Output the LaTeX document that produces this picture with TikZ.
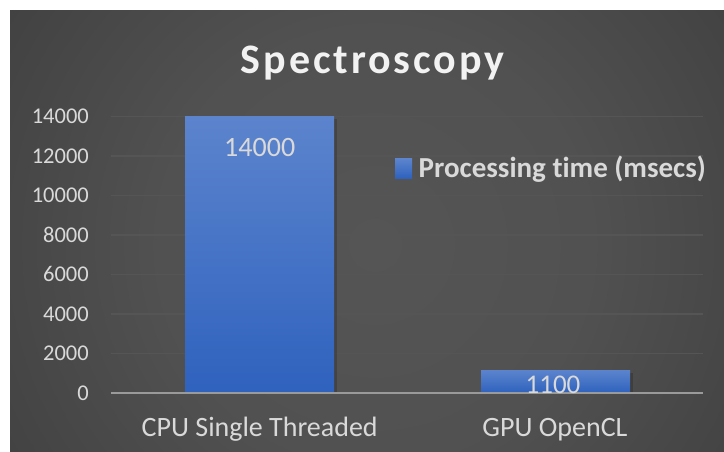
\documentclass[tikz,border=0pt]{standalone}
\usepackage{fontspec}
\setmainfont{Carlito}[Ligatures=NoCommon]
\newfontfamily\titlefont{Carlito}[LetterSpace=7]
\definecolor{bgin}{HTML}{555555}
\definecolor{bgout}{HTML}{222222}
\definecolor{barTop}{HTML}{5C84CD}
\definecolor{barBot}{HTML}{2F62BE}
\definecolor{txt}{HTML}{D9D9D9}
\definecolor{grid}{HTML}{555555}
\definecolor{axis}{HTML}{9A9A9A}
\pgfdeclareradialshading{bgrad}{\pgfpoint{0bp}{0bp}}{color(0bp)=(bgin); color(12bp)=(bgin!92!bgout); color(50bp)=(bgout)}
\tikzset{
  lbl/.style={inner sep=0pt, text=txt},
  ticklbl/.style={lbl, anchor=base east, font=\fontsize{22.5}{24}\selectfont},
  catlbl/.style={lbl, anchor=base, font=\fontsize{28}{30}\selectfont},
  datalbl/.style={lbl, anchor=base, font=\fontsize{28}{30}\selectfont},
  bar/.style={top color=barTop, bottom color=barBot, draw=none},
  gridline/.style={draw=grid, line width=1.4pt},
}
\begin{document}
\begin{tikzpicture}[x=1pt,y=-1pt]
\useasboundingbox (0,0) rectangle (724,452);
\fill[white] (0,0) rectangle (724,452);
\begin{scope}
  \clip (10,11) rectangle (724,452);
  \shade[shading=bgrad] (375,245) circle [radius=450pt];
\end{scope}
% gridlines
\foreach \v/\yy in {2000/353.3,4000/313.9,6000/274.4,8000/235.0,10000/195.6,12000/156.1,14000/116.7}{
  \draw[gridline] (111,\yy) -- (703,\yy);
  \node[ticklbl] (t\v) at (89,\yy+7.3) {\v};
}
\node[ticklbl] (t0) at (89,400) {0};
% shadows of bars
\fill[black, opacity=0.18] (187,119) rectangle (337,392.7);
\fill[black, opacity=0.18] (483,372.5) rectangle (633,392.7);
% bars
\shade[bar] (185,116.7) rectangle (334,392.7);
\shade[bar] (481,370) rectangle (630,392.7);
\coordinate (cpu) at (259.5,392.7);
\coordinate (gpu) at (555.5,392.7);
% axis
\draw[draw=axis, line width=2.2pt] (111,392.7) -- (703,392.7);
% data labels
\node[datalbl] (d1) at (259.7,156.7) {14000};
\node[datalbl, font=\fontsize{27}{29}\selectfont] (d2) at (553,393.3) {1100};
% categories
\node[catlbl] (c1) at (259.7,436) {CPU Single Threaded};
\node[catlbl] (c2) at (555,436) {GPU OpenCL};
% legend
\shade[bar] (395,159) rectangle (412,178);
\node[lbl, anchor=base west, font=\fontsize{29}{31}\selectfont\bfseries] (leg) at (418.5,177.3) {Processing time (msecs)};
% title
\node[inner sep=0pt, anchor=base, text=white!95!black, font=\titlefont\fontsize{42}{46}\selectfont\bfseries] (title) at (372.7,73.3) {Spectroscopy};
\end{tikzpicture}
\end{document}
